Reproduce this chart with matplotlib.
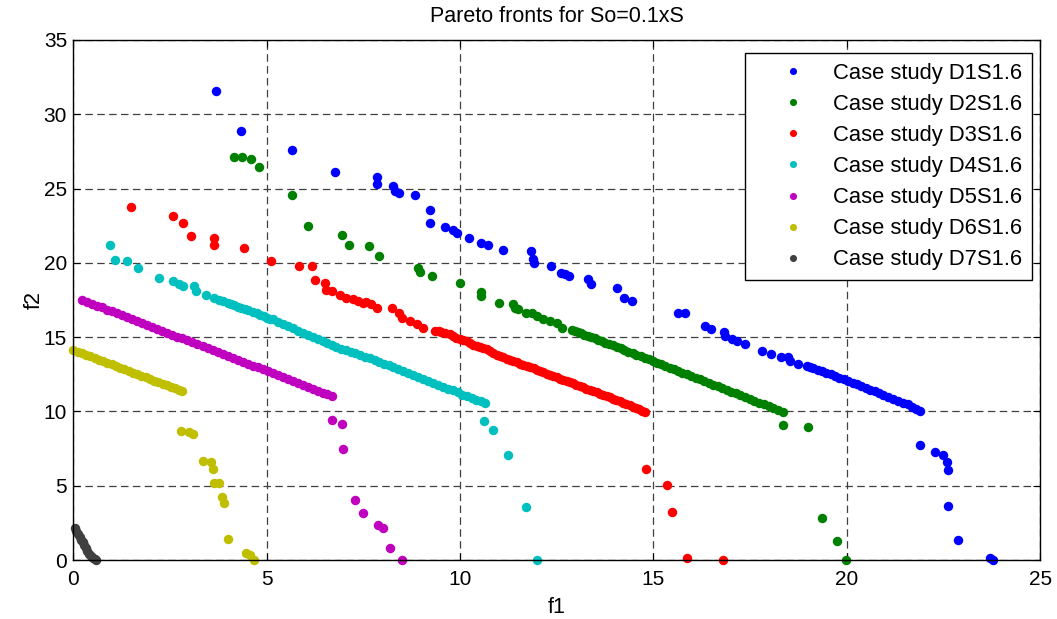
import matplotlib
matplotlib.use("Agg")
import matplotlib.pyplot as plt

plt.rcParams['font.family'] = ['Liberation Sans', 'DejaVu Sans']

# ---------------------------
#  Data (f1, f2)
# ---------------------------

d1 = [(3.69, 31.58), (4.34, 28.9), (5.66, 27.57), (6.77, 26.1), (7.85, 25.8), (7.85, 25.3),
      (8.27, 25.2), (8.32, 24.85), (8.41, 24.68), (8.83, 24.56), (9.22, 23.55), (9.22, 22.66),
      (9.61, 22.43), (9.81, 22.2), (9.91, 21.98), (10.24, 21.65), (10.54, 21.33), (10.71, 21.2),
      (11.11, 20.88), (11.83, 20.77), (11.88, 20.24), (11.91, 20.0), (12.35, 19.76), (12.61, 19.33),
      (12.71, 19.22), (12.82, 19.09), (13.32, 18.89), (13.38, 18.55), (14.06, 18.33), (14.24, 17.65),
      (14.45, 17.45), (15.64, 16.64), (15.82, 16.64), (16.33, 15.77), (16.5, 15.55), (16.83, 15.32),
      (16.85, 15.09), (17.02, 14.85), (17.15, 14.72), (17.37, 14.54), (17.82, 14.08), (18.03, 13.86),
      (18.3, 13.64), (18.49, 13.64), (18.53, 13.39), (18.73, 13.17),
      (18.96, 13.08), (19.05, 12.98), (19.14, 12.9), (19.25, 12.8), (19.36, 12.7), (19.47, 12.58),
      (19.58, 12.49), (19.7, 12.37), (19.81, 12.27), (19.92, 12.16), (20.03, 12.05), (20.15, 11.93),
      (20.26, 11.82), (20.38, 11.7), (20.5, 11.58), (20.61, 11.47), (20.72, 11.35), (20.84, 11.23),
      (20.95, 11.12), (21.07, 11.0), (21.2, 10.86), (21.33, 10.73), (21.46, 10.6), (21.58, 10.47),
      (21.7, 10.33), (21.8, 10.19), (21.89, 10.05),
      (21.89, 7.72), (22.29, 7.27), (22.49, 7.05), (22.58, 6.62), (22.62, 6.06), (22.62, 3.63),
      (22.89, 1.37), (23.7, 0.16), (23.79, 0.0)]

d2 = [(4.15, 27.12), (4.37, 27.12), (4.59, 27.0), (4.81, 26.45), (5.66, 24.56), (6.08, 22.46),
      (6.95, 21.89), (7.12, 21.22), (7.64, 21.11), (7.9, 20.44), (8.92, 19.63), (8.96, 19.4),
      (9.27, 19.09), (10.0, 18.66), (10.54, 18.01), (10.54, 17.79), (11.01, 17.32), (11.36, 17.21),
      (11.42, 16.98), (11.49, 16.87), (11.7, 16.64), (11.87, 16.64), (11.98, 16.42), (12.15, 16.2),
      (12.32, 16.08), (12.52, 15.97), (12.63, 15.63),
      (12.89, 15.5), (12.97, 15.43), (13.05, 15.33), (13.13, 15.27), (13.21, 15.17), (13.3, 15.1),
      (13.39, 14.99), (13.48, 14.92), (13.57, 14.82), (13.66, 14.74), (13.76, 14.63), (13.85, 14.55),
      (13.95, 14.44), (14.05, 14.35), (14.15, 14.24), (14.25, 14.14), (14.35, 14.03), (14.46, 13.93),
      (14.56, 13.82), (14.67, 13.71), (14.77, 13.6), (14.88, 13.5), (14.98, 13.39), (15.09, 13.28),
      (15.2, 13.17), (15.31, 13.06), (15.42, 12.94), (15.53, 12.84), (15.64, 12.72), (15.75, 12.62),
      (15.86, 12.5), (15.98, 12.39), (16.09, 12.27), (16.2, 12.17), (16.32, 12.04), (16.43, 11.93),
      (16.55, 11.81), (16.66, 11.7), (16.78, 11.57), (16.9, 11.46), (17.01, 11.34), (17.13, 11.22),
      (17.25, 11.1), (17.37, 10.98), (17.49, 10.85), (17.61, 10.73), (17.74, 10.6), (17.86, 10.48),
      (17.98, 10.35), (18.1, 10.23), (18.23, 10.1), (18.36, 9.96),
      (18.36, 9.06), (18.99, 8.95), (19.37, 2.8), (19.76, 1.26), (19.98, 0.0)]

d3 = [(1.5, 23.78), (2.58, 23.13), (2.84, 22.68), (3.05, 21.78), (3.64, 21.67), (3.64, 21.22),
      (4.41, 21.0), (5.1, 20.1), (5.83, 19.76), (6.17, 19.76), (6.26, 18.86), (6.52, 18.64),
      (6.54, 18.19), (6.69, 18.08), (6.9, 17.85), (7.06, 17.63), (7.24, 17.54), (7.37, 17.43),
      (7.5, 17.31), (7.58, 17.34), (7.71, 17.21), (7.84, 16.98), (8.23, 16.98), (8.43, 16.6),
      (8.49, 16.3), (8.7, 16.08), (8.88, 15.86), (9.05, 15.63),
      (9.35, 15.41), (9.45, 15.38), (9.52, 15.35), (9.62, 15.27), (9.74, 15.19), (9.82, 15.07),
      (9.9, 14.96), (10.0, 14.9), (10.08, 14.82), (10.17, 14.74), (10.26, 14.62), (10.34, 14.5),
      (10.43, 14.4), (10.52, 14.33), (10.6, 14.25), (10.69, 14.18), (10.78, 14.06), (10.86, 13.95),
      (10.95, 13.83), (11.03, 13.73), (11.12, 13.65), (11.21, 13.56), (11.29, 13.47), (11.38, 13.39),
      (11.46, 13.31), (11.55, 13.22), (11.63, 13.14), (11.72, 13.06), (11.81, 12.97), (11.9, 12.89),
      (11.98, 12.8), (12.07, 12.72), (12.15, 12.64), (12.24, 12.55), (12.32, 12.47), (12.41, 12.38),
      (12.5, 12.3), (12.58, 12.21), (12.67, 12.13), (12.76, 12.05), (12.84, 11.96), (12.93, 11.88),
      (13.01, 11.79), (13.1, 11.71), (13.19, 11.62), (13.27, 11.54), (13.36, 11.45), (13.44, 11.37),
      (13.53, 11.29), (13.62, 11.2), (13.7, 11.12), (13.79, 11.04), (13.87, 10.95), (13.96, 10.87),
      (14.04, 10.78), (14.13, 10.7), (14.22, 10.6), (14.3, 10.5), (14.39, 10.41), (14.48, 10.32),
      (14.56, 10.23), (14.64, 10.14), (14.71, 10.05), (14.78, 9.96),
      (14.82, 6.15), (15.34, 5.03), (15.47, 3.25), (15.86, 0.16), (16.8, 0.0)]

d4 = [(0.95, 21.22), (1.08, 20.21), (1.38, 20.1), (1.67, 19.65), (2.22, 18.98), (2.57, 18.75),
      (2.74, 18.55), (2.83, 18.44), (3.13, 18.42), (3.17, 18.08), (3.43, 17.85),
      (3.65, 17.63), (3.77, 17.5), (3.88, 17.41), (3.99, 17.32), (4.08, 17.24), (4.16, 17.16),
      (4.25, 17.05), (4.34, 16.94), (4.43, 16.88), (4.51, 16.82), (4.64, 16.71), (4.74, 16.6),
      (4.83, 16.49), (4.92, 16.4), (5.0, 16.31), (5.09, 16.25), (5.17, 16.2), (5.3, 16.05),
      (5.42, 15.91), (5.55, 15.76), (5.69, 15.59), (5.82, 15.44), (5.95, 15.29), (6.07, 15.15),
      (6.2, 15.0), (6.33, 14.86), (6.45, 14.72), (6.55, 14.58), (6.68, 14.46), (6.8, 14.35),
      (6.93, 14.23), (7.05, 14.12), (7.17, 14.01), (7.29, 13.9), (7.41, 13.82), (7.54, 13.69),
      (7.66, 13.57), (7.79, 13.44), (7.91, 13.32), (8.03, 13.2), (8.15, 13.1), (8.27, 13.0),
      (8.4, 12.86), (8.53, 12.73), (8.66, 12.6), (8.79, 12.45), (8.92, 12.33), (9.05, 12.2),
      (9.18, 12.06), (9.31, 11.92), (9.44, 11.78), (9.56, 11.65), (9.69, 11.52), (9.81, 11.41),
      (9.94, 11.28), (10.06, 11.13), (10.18, 11.02), (10.3, 10.9), (10.42, 10.79), (10.53, 10.68),
      (10.64, 10.59),
      (10.63, 9.37), (10.84, 8.73), (11.23, 7.05), (11.7, 3.59), (11.99, 0.0)]

d5 = [(0.22, 17.5), (0.35, 17.38), (0.48, 17.26), (0.61, 17.12), (0.74, 17.0), (0.87, 16.86),
      (1.0, 16.73), (1.13, 16.6), (1.26, 16.47), (1.39, 16.34), (1.52, 16.21), (1.65, 16.08),
      (1.78, 15.95), (1.91, 15.82), (2.04, 15.69), (2.17, 15.56), (2.3, 15.43), (2.43, 15.3),
      (2.56, 15.17), (2.69, 15.04), (2.82, 14.91), (2.95, 14.78), (3.08, 14.65), (3.21, 14.52),
      (3.34, 14.39), (3.47, 14.26), (3.6, 14.13), (3.73, 14.0), (3.86, 13.87), (3.99, 13.74),
      (4.12, 13.61), (4.25, 13.48), (4.38, 13.35), (4.51, 13.22), (4.64, 13.09), (4.77, 12.96),
      (4.9, 12.83), (5.03, 12.72), (5.16, 12.58), (5.29, 12.44), (5.42, 12.31), (5.55, 12.18),
      (5.68, 12.05), (5.81, 11.92), (5.94, 11.79), (6.07, 11.66), (6.2, 11.53), (6.33, 11.4),
      (6.46, 11.27), (6.57, 11.15), (6.68, 11.04),
      (6.68, 9.42), (6.94, 9.15), (6.98, 7.49), (7.28, 4.04), (7.5, 3.14), (7.89, 2.36),
      (8.01, 2.13), (8.19, 0.79), (8.49, 0.0)]

d6 = [(0.0, 14.13), (0.11, 14.03), (0.22, 13.92), (0.33, 13.81), (0.44, 13.7), (0.55, 13.6),
      (0.66, 13.49), (0.77, 13.38), (0.88, 13.27), (0.99, 13.16), (1.1, 13.05), (1.21, 12.95),
      (1.32, 12.84), (1.43, 12.73), (1.54, 12.62), (1.65, 12.52), (1.76, 12.41), (1.87, 12.3),
      (1.98, 12.19), (2.09, 12.08), (2.2, 11.98), (2.31, 11.87), (2.42, 11.76), (2.53, 11.65),
      (2.64, 11.55), (2.72, 11.47), (2.8, 11.39),
      (2.78, 8.7), (3.0, 8.59), (3.09, 8.48), (3.35, 6.68), (3.56, 6.62), (3.6, 6.15),
      (3.65, 5.16), (3.77, 5.16), (3.85, 4.26), (3.9, 3.86), (3.99, 1.39), (4.46, 0.49),
      (4.57, 0.34), (4.67, 0.0)]

d7 = [(0.04, 2.13), (0.08, 1.95), (0.12, 1.75), (0.16, 1.55), (0.2, 1.38), (0.24, 1.2),
      (0.28, 1.0), (0.32, 0.8), (0.36, 0.6), (0.4, 0.42), (0.45, 0.25), (0.5, 0.12),
      (0.55, 0.05), (0.59, 0.0)]

series = [d1, d2, d3, d4, d5, d6, d7]
labels = ["Case study D1S1.6", "Case study D2S1.6", "Case study D3S1.6", "Case study D4S1.6",
          "Case study D5S1.6", "Case study D6S1.6", "Case study D7S1.6"]
colors = [(0, 0, 1), (0, 0.5, 0), (1, 0, 0), (0, 0.75, 0.75),
          (0.75, 0, 0.75), (0.75, 0.75, 0), (0.25, 0.25, 0.25)]


def main():
    fig = plt.figure(figsize=(10.57, 6.19), dpi=100)
    ax = fig.add_axes([0.0694, 0.0953, 0.9146, 0.8401])

    for pts, lab, col in zip(series, labels, colors):
        xs = [p[0] for p in pts]
        ys = [p[1] for p in pts]
        ax.plot(xs, ys, linestyle="none", marker="o", markersize=6.8,
                markeredgewidth=0, color=col, label=lab, clip_on=False)

    ax.set_xlim(0, 25)
    ax.set_ylim(0, 35)
    ax.set_xticks(range(0, 26, 5))
    ax.set_yticks(range(0, 36, 5))

    ax.grid(True, color="0.25", linestyle=(0, (6, 3.5)), linewidth=0.9)
    ax.set_axisbelow(True)
    ax.tick_params(direction="in", length=5, width=0.8, labelsize=15, pad=4.5,
                   top=True, right=True)
    ax.tick_params(axis="x", pad=7)
    for sp in ax.spines.values():
        sp.set_linewidth(1.0)

    ax.set_xlabel("f1", fontsize=15.5, labelpad=6)
    ax.set_ylabel("f2", fontsize=15.5, labelpad=-1)
    ax.set_title("Pareto fronts for So=0.1xS", fontsize=15.5, pad=13)

    leg = ax.legend(loc="upper right", bbox_to_anchor=(0.9917, 0.975), borderaxespad=0,
                    fontsize=15.8, fancybox=False, framealpha=1, edgecolor="black",
                    markerscale=0.75, handlelength=3.47, handletextpad=0.1,
                    borderpad=0.45, labelspacing=0.46)
    leg.get_frame().set_linewidth(1.0)

    fig.savefig("out.png", dpi=100)


if __name__ == "__main__":
    main()
